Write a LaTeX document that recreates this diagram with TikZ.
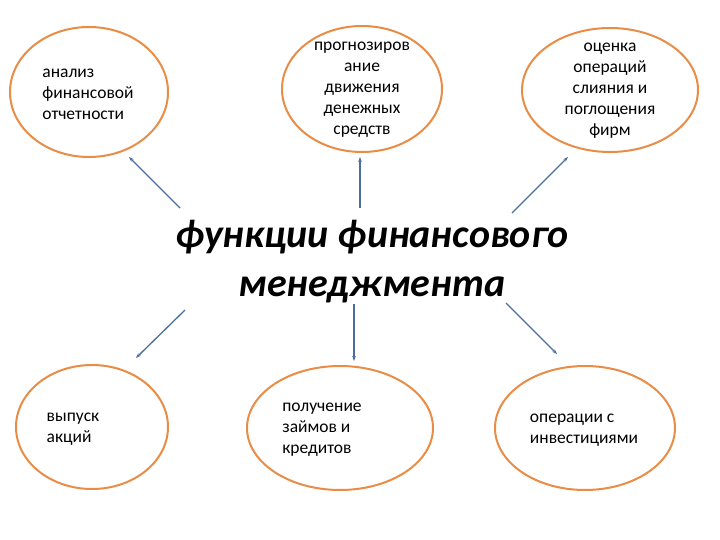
\documentclass[tikz,border=0pt]{standalone}
\usepackage{fontspec}
\setmainfont{Carlito}
\usepackage[dvipsnames]{xcolor}
\usetikzlibrary{shapes.geometric,arrows.meta}

\definecolor{ringorange}{RGB}{232,140,70}
\definecolor{arrowblue}{RGB}{74,110,160}

\begin{document}
\begin{tikzpicture}[x=1pt,y=-1pt,->,>={Stealth[length=5pt,width=3.5pt]},
    main node/.style={ellipse,draw=ringorange,line width=2pt,inner sep=0pt,fill=white},
    label node/.style={font=\fontsize{17.5}{21}\selectfont,inner sep=0pt},
    conn/.style={draw=arrowblue,line width=1.3pt,shorten >=0pt}]

                \useasboundingbox (0,0) rectangle (720,540);

                \node[main node, minimum width=158pt, minimum height=130pt] (1) at (89,92){};
                \node[main node, minimum width=160pt, minimum height=126pt] (2) at (362,89){};
                \node[main node, minimum width=176pt, minimum height=124pt] (3) at (610,90){};
                \node[main node, minimum width=152pt, minimum height=124pt] (4) at (92,427){};
                \node[main node, minimum width=186pt, minimum height=124pt] (5) at (340,428){};
                \node[main node, minimum width=180pt, minimum height=124pt] (6) at (585,428){};

                \node[label node, align=left] (t1) at (88,94){анализ\\финансовой\\отчетности};
                \node[label node, align=center] (t2) at (362,90){прогнозиров\\ание\\движения\\денежных\\средств};
                \node[label node, align=center] (t3) at (610,91){оценка\\операций\\слияния и\\поглощения\\фирм};
                \node[label node, align=left] (t4) at (73,429){выпуск\\акций};
                \node[label node, align=left] (t5) at (322,430){получение\\займов и\\кредитов};
                \node[label node, align=left] (t6) at (584,430){операции с\\инвестициями};

                \node[font=\fontsize{40}{49}\selectfont\bfseries\itshape, align=center, inner sep=0pt] (7) at (372,262){функции финансового\\менеджмента};

                % arrow ends
                \coordinate (a1) at (180,208); \coordinate (b1) at (129,157);
                \coordinate (a2) at (360,208); \coordinate (b2) at (360,157);
                \coordinate (a3) at (512,213); \coordinate (b3) at (568,157);
                \coordinate (a4) at (185,310); \coordinate (b4) at (136,358);
                \coordinate (a5) at (354,304); \coordinate (b5) at (354,361);
                \coordinate (a6) at (506,303); \coordinate (b6) at (557,354);

                \draw[conn] (a1) to (b1);
                \draw[conn] (a2) to (b2);
                \draw[conn] (a3) to (b3);
                \draw[conn] (a4) to (b4);
                \draw[conn] (a5) to (b5);
                \draw[conn] (a6) to (b6);

                ;
            \end{tikzpicture}
\end{document}
